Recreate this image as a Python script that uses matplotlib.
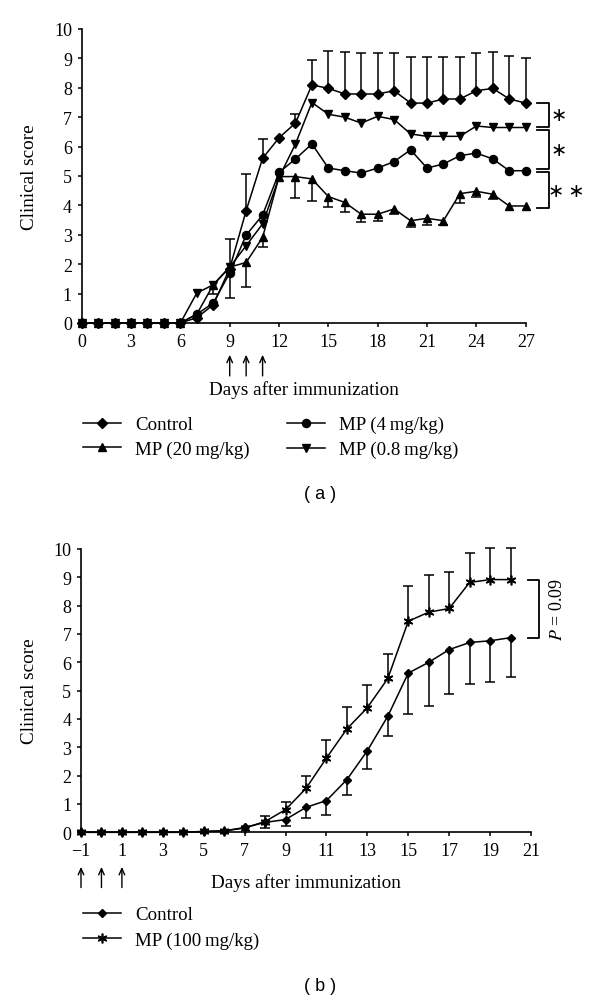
import matplotlib
matplotlib.use("Agg")
import matplotlib.pyplot as plt
import numpy as np

plt.rcParams['font.family'] = ['Liberation Serif', 'DejaVu Serif']
plt.rcParams['mathtext.fontset'] = 'stix'
plt.rcParams['axes.unicode_minus'] = True

# ---------------- Panel (a) data ----------------
days_a = list(range(0, 28))
control_a = [0, 0, 0, 0, 0, 0, 0, 0.18, 0.62, 1.85, 3.82, 5.6, 6.3, 6.8, 8.1, 7.98, 7.79,
             7.79, 7.79, 7.9, 7.48, 7.48, 7.62, 7.62, 7.9, 7.98, 7.62, 7.48]
control_a_up = [0, 0, 0, 0, 0, 0, 0, 0, 0, 1.0, 1.25, 0.66, 0, 0.3, 0.85, 1.28, 1.44,
                1.39, 1.39, 1.3, 1.56, 1.56, 1.44, 1.44, 1.28, 1.25, 1.45, 1.53]
control_a_down = [0, 0, 0, 0, 0, 0, 0, 0, 0, 1.0, 0, 0, 0, 0, 0, 0, 0,
                  0, 0, 0, 0, 0, 0, 0, 0, 0, 0, 0]
mp20_a = [0, 0, 0, 0, 0, 0, 0, 0.3, 1.3, 1.9, 2.06, 2.91, 4.98, 4.98, 4.9, 4.3, 4.1,
          3.7, 3.7, 3.88, 3.48, 3.56, 3.48, 4.4, 4.48, 4.38, 3.98, 3.98]
mp20_a_down = [0, 0, 0, 0, 0, 0, 0, 0, 0.3, 0, 0.85, 0.34, 0, 0.73, 0.75, 0.34, 0.34,
               0.27, 0.22, 0.17, 0.2, 0.23, 0.16, 0.31, 0.21, 0.16, 0, 0]
mp4_a = [0, 0, 0, 0, 0, 0, 0, 0.3, 0.68, 1.7, 2.99, 3.67, 5.12, 5.58, 6.09, 5.27, 5.18,
         5.1, 5.27, 5.49, 5.89, 5.27, 5.41, 5.69, 5.78, 5.58, 5.18, 5.18]
mp08_a = [0, 0, 0, 0, 0, 0, 0, 1.02, 1.3, 1.9, 2.63, 3.37, 4.95, 6.09, 7.5, 7.1, 7.0,
          6.8, 7.03, 6.92, 6.43, 6.35, 6.35, 6.35, 6.7, 6.65, 6.65, 6.65]
labels_a = ['Control', 'MP (20\u2009mg/kg)', 'MP (4\u2009mg/kg)', 'MP (0.8\u2009mg/kg)']
arrows_a = [9, 10, 11]
xticks_a = list(range(0, 28, 3))

# ---------------- Panel (b) data ----------------
days_b = list(range(-1, 21))
control_b = [0, 0, 0, 0, 0, 0, 0.03, 0.05, 0.17, 0.35, 0.45, 0.88, 1.12, 1.86, 2.88,
             4.1, 5.62, 6.0, 6.45, 6.7, 6.76, 6.87]
control_b_down = [0, 0, 0, 0, 0, 0, 0, 0, 0, 0.2, 0.24, 0.36, 0.5, 0.55, 0.64, 0.71,
                  1.46, 1.53, 1.56, 1.47, 1.47, 1.39]
mp100_b = [0, 0, 0, 0, 0, 0, 0.03, 0.05, 0.15, 0.38, 0.8, 1.55, 2.62, 3.65, 4.4, 5.43,
           7.45, 7.77, 7.9, 8.82, 8.92, 8.92]
mp100_b_up = [0, 0, 0, 0, 0, 0, 0, 0, 0, 0.19, 0.26, 0.42, 0.64, 0.77, 0.8, 0.86,
              1.25, 1.32, 1.29, 1.05, 1.1, 1.1]
labels_b = ['Control', 'MP (100\u2009mg/kg)']
arrows_b = [-1, 0, 1]
xticks_b = list(range(-1, 22, 2))

W, H = 600, 1003
fig = plt.figure(figsize=(W / 100, H / 100), dpi=100)

ax_a = fig.add_axes([81.7 / W, 1 - 324 / H, 444 / W, 294 / H])
ax_b = fig.add_axes([81 / W, 1 - 833.3 / H, 450 / W, 283.3 / H])

LW = 1.1
CAP = 6.5  # cap width in points
LABEL_FS = 13.8
TICK_FS = 13
LEG_FS = 13.6


def errbars(ax, x, y, lo, hi):
    x = np.asarray(x, float)
    y = np.asarray(y, float)
    lo = np.asarray(lo, float)
    hi = np.asarray(hi, float)
    m = hi > 0
    if m.any():
        ax.vlines(x[m], y[m], y[m] + hi[m], colors='k', lw=LW, zorder=2, clip_on=False)
        ax.plot(x[m], y[m] + hi[m], ls='none', marker='_', ms=CAP, mew=LW, color='k',
                zorder=2, clip_on=False)
    m = lo > 0
    if m.any():
        ax.vlines(x[m], y[m] - lo[m], y[m], colors='k', lw=LW, zorder=2, clip_on=False)
        ax.plot(x[m], y[m] - lo[m], ls='none', marker='_', ms=CAP, mew=LW, color='k',
                zorder=2, clip_on=False)


def style(ax, xlim, xticks):
    ax.set_xlim(*xlim)
    ax.set_ylim(0, 10)
    ax.set_xticks(xticks)
    ax.set_yticks(range(0, 11))
    for s in ['top', 'right']:
        ax.spines[s].set_visible(False)
    for s in ['left', 'bottom']:
        ax.spines[s].set_linewidth(1.2)
    ax.tick_params(direction='out', length=3, width=1.1, labelsize=TICK_FS, pad=4)
    ax.tick_params(axis='x', pad=4)


def bracket(ax, x0, x1, ytop, ybot):
    ax.plot([x0, x1, x1, x0], [ytop, ytop, ybot, ybot], color='k', lw=1.3, clip_on=False)


# ---------------- Panel (a) ----------------
errbars(ax_a, days_a, control_a, control_a_down, control_a_up)
errbars(ax_a, days_a, mp20_a, mp20_a_down, [0] * len(days_a))
h1, = ax_a.plot(days_a, control_a, '-', marker='D', ms=4.6, color='k', lw=LW, zorder=4, clip_on=False)
h2, = ax_a.plot(days_a, mp20_a, '-', marker='^', ms=6.2, color='k', lw=LW, zorder=3, clip_on=False)
h3, = ax_a.plot(days_a, mp4_a, '-', marker='o', ms=5.8, color='k', lw=LW, zorder=3, clip_on=False)
h4, = ax_a.plot(days_a, mp08_a, '-', marker='v', ms=6.2, color='k', lw=LW, zorder=3, clip_on=False)
style(ax_a, (0, 27), xticks_a)

xa0, xa1 = 27.7, 28.4
b1 = (control_a[-1], mp08_a[-1] + 0.03)
b2 = (mp08_a[-1] - 0.1, mp4_a[-1] + 0.07)
b3 = (mp4_a[-1] - 0.05, mp20_a[-1] - 0.08)
for top, bot in (b1, b2, b3):
    bracket(ax_a, xa0, xa1, top, bot)
star_font = ['DejaVu Sans']
ax_a.text(29.0, sum(b1) / 2, '\u2217', ha='center', va='center', fontsize=14,
          family=star_font, clip_on=False)
ax_a.text(29.0, sum(b2) / 2, '\u2217', ha='center', va='center', fontsize=14,
          family=star_font, clip_on=False)
ax_a.text(29.45, sum(b3) / 2, '\u2217\u2009\u2217', ha='center', va='center', fontsize=14,
          family=star_font, clip_on=False)

for d in arrows_a:
    ax_a.annotate('', xy=(d, -0.108), xytext=(d, -0.18), xycoords=ax_a.get_xaxis_transform(),
                  arrowprops=dict(arrowstyle='->,head_length=0.45,head_width=0.2', lw=1.0,
                                  color='k', shrinkA=0, shrinkB=0))
ax_a.text(0.5, -0.225, 'Days after immunization', transform=ax_a.transAxes,
          ha='center', va='center', fontsize=LABEL_FS)
ax_a.text(-0.117, 0.5, 'Clinical score', transform=ax_a.transAxes, rotation=90,
          ha='center', va='center', fontsize=LABEL_FS)

ax_a.legend([h1, h2, h3, h4], labels_a, ncol=2, loc='upper left',
            bbox_to_anchor=(83 / W, 1 - 417 / H), bbox_transform=fig.transFigure,
            frameon=False, borderpad=0, handlelength=2.0, handletextpad=0.75,
            columnspacing=2.0, labelspacing=0.4, fontsize=LEG_FS, borderaxespad=0)

fig.text(320 / W, 1 - 495 / H, '( a )', ha='center', va='center', fontsize=13,
         family=['Liberation Sans', 'DejaVu Sans'])

# ---------------- Panel (b) ----------------
errbars(ax_b, days_b, control_b, control_b_down, [0] * len(days_b))
errbars(ax_b, days_b, mp100_b, [0] * len(days_b), mp100_b_up)
g1, = ax_b.plot(days_b, control_b, '-', marker='D', ms=4.0, color='k', lw=LW, zorder=4, clip_on=False)
g2, = ax_b.plot(days_b, mp100_b, '-', marker=(6, 2, 0), ms=7, mew=1.2, color='k', lw=LW,
                zorder=3, clip_on=False)
style(ax_b, (-1, 21), xticks_b)

bracket(ax_b, 20.86, 21.4, mp100_b[-1], control_b[-1])
ax_b.text(22.3, (mp100_b[-1] + control_b[-1]) / 2, '$P$ = 0.09', rotation=90,
          ha='center', va='center', fontsize=13, clip_on=False)

for d in arrows_b:
    ax_b.annotate('', xy=(d, -0.122), xytext=(d, -0.195), xycoords=ax_b.get_xaxis_transform(),
                  arrowprops=dict(arrowstyle='->,head_length=0.45,head_width=0.2', lw=1.0,
                                  color='k', shrinkA=0, shrinkB=0))
ax_b.text(0.5, -0.175, 'Days after immunization', transform=ax_b.transAxes,
          ha='center', va='center', fontsize=LABEL_FS)
ax_b.text(-0.114, 0.5, 'Clinical score', transform=ax_b.transAxes, rotation=90,
          ha='center', va='center', fontsize=LABEL_FS)

ax_b.legend([g1, g2], labels_b, ncol=1, loc='upper left',
            bbox_to_anchor=(83 / W, 1 - 907 / H), bbox_transform=fig.transFigure,
            frameon=False, borderpad=0, handlelength=2.0, handletextpad=0.75,
            labelspacing=0.45, fontsize=LEG_FS, borderaxespad=0)

fig.text(320 / W, 1 - 987 / H, '( b )', ha='center', va='center', fontsize=13,
         family=['Liberation Sans', 'DejaVu Sans'])

fig.savefig('out.png', dpi=100)
